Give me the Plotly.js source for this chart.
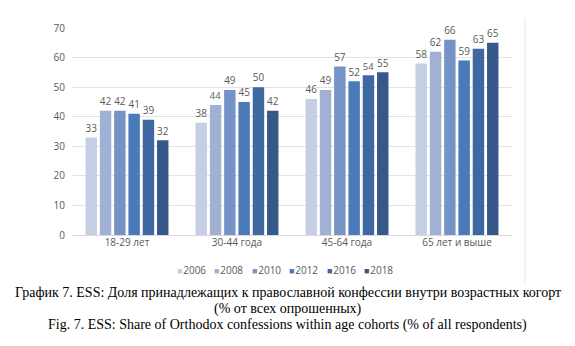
<!DOCTYPE html>
<html>
<head>
<meta charset="utf-8">
<script src="https://cdn.plot.ly/plotly-3.0.1.min.js"></script>
<style>html,body{margin:0;padding:0;background:#fff;}#chart{width:575px;height:346px;}</style>
</head>
<body>
<div id="chart"></div>
<script>
const categories = ["18-29 лет", "30-44 года", "45-64 года", "65 лет и выше"];
const years = ["2006", "2008", "2010", "2012", "2016", "2018"];
const v2006 = [33, 38, 46, 58];
const v2008 = [42, 44, 49, 62];
const v2010 = [42, 49, 57, 66];
const v2012 = [41, 45, 52, 59];
const v2016 = [39, 50, 54, 63];
const v2018 = [32, 42, 55, 65];
const seriesValues = [v2006, v2008, v2010, v2012, v2016, v2018];
const colors = ["#c5cee3", "#a0b1d4", "#7593c6", "#4a7aba", "#3f68a2", "#37598a"];

const sans = "Open Sans, Liberation Sans, sans-serif";
const serif = "Liberation Serif, Times New Roman, serif";

const traces = years.map((y, i) => ({
  type: "bar",
  name: y,
  x: categories,
  y: seriesValues[i],
  marker: {color: colors[i]},
  text: seriesValues[i].map(String),
  textposition: "outside",
  textfont: {family: sans, size: 11, color: "#595959"},
  cliponaxis: false,
  hoverinfo: "none"
}));

// compact legend drawn as annotations (plot area spans 72..512 px)
const legendAnn = years.map((y, i) => ({
  xref: "paper", yref: "paper",
  x: (175 + 37.4 * i - 72) / 440, y: -0.17,
  xanchor: "left", yanchor: "middle", showarrow: false,
  text: '<span style="color:' + colors[i] + ';font-size:9px">■</span><span style="font-size:3px"> </span>' + y,
  font: {family: sans, size: 10, color: "#595959"}
}));

const layout = {
  width: 575, height: 346,
  margin: {l: 72, r: 63, t: 28, b: 111},
  paper_bgcolor: "#fff", plot_bgcolor: "#fff",
  barmode: "group", bargap: 0.22, bargroupgap: 0.2,
  showlegend: false,
  xaxis: {type: "category", showgrid: false, zeroline: false, showline: false, ticks: "",
          tickfont: {family: sans, size: 10, color: "#595959"}},
  yaxis: {range: [0, 70], dtick: 10, showgrid: true, gridcolor: "#e3e3e3", gridwidth: 1,
          zeroline: true, zerolinecolor: "#d9d9d9", showline: false, ticks: "",
          ticklabelstandoff: 6,
          tickfont: {family: sans, size: 10, color: "#595959"}},
  shapes: [{type: "line", xref: "paper", yref: "paper", x0: 1.0295, x1: 1.0295,
            y0: 1.05, y1: -0.23, line: {color: "#e6e6e6", width: 1}}],
  annotations: legendAnn.concat([
    {xref: "paper", yref: "paper", x: 0.49, y: -0.280, xanchor: "center", yanchor: "middle", showarrow: false,
     text: "График 7. ESS: Доля принадлежащих к православной конфессии внутри возрастных когорт",
     font: {family: serif, size: 14, color: "#000"}},
    {xref: "paper", yref: "paper", x: 0.49, y: -0.357, xanchor: "center", yanchor: "middle", showarrow: false,
     text: "(% от всех опрошенных)",
     font: {family: serif, size: 14, color: "#000"}},
    {xref: "paper", yref: "paper", x: 0.49, y: -0.435, xanchor: "center", yanchor: "middle", showarrow: false,
     text: "Fig. 7. ESS: Share of Orthodox confessions within age cohorts (% of all respondents)",
     font: {family: serif, size: 14, color: "#000"}}
  ])
};

Plotly.newPlot("chart", traces, layout, {displayModeBar: false, staticPlot: true});
</script>
</body>
</html>
